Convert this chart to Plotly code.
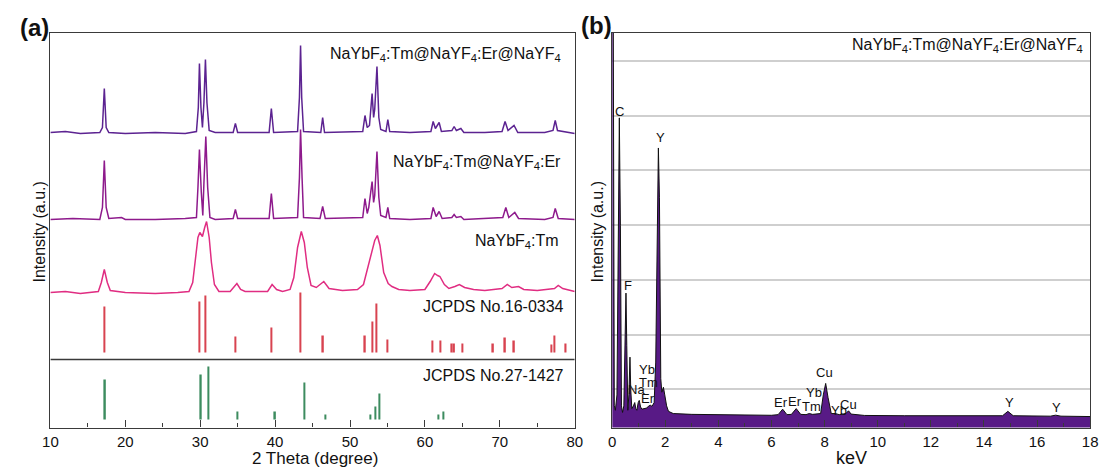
import plotly.graph_objects as go

W, H = 1111, 468

# ---------------- Panel (a): XRD ----------------
# intensities in arbitrary units (offset-stacked)
xrd_core_shell_shell_x = [10, 12, 14, 16.6, 16.95, 17.2, 17.45, 17.8, 20, 24, 28, 29.5, 29.75, 29.9, 30.1, 30.3, 30.5, 30.7, 30.9, 31.2,
                          32, 34.4, 34.7, 35.0, 39.2, 39.5, 39.8, 43.0, 43.25, 43.4, 43.55, 43.8, 46.1, 46.35, 46.6, 51.7, 52.0, 52.3,
                          52.6, 52.95, 53.15, 53.3, 53.6, 53.85, 54.1, 54.8, 55.05, 55.3, 58, 60.8, 61.1, 61.4, 61.9, 62.2, 63.6, 63.9,
                          64.2, 64.8, 65.2, 68, 70.3, 70.7, 71.1, 71.9, 72.4, 76, 77.1, 77.4, 77.7, 78.5, 80]
xrd_core_shell_shell_y = [295, 296, 294, 295, 300, 339, 300, 295, 294, 295, 294, 296, 320, 364, 320, 300, 325, 368, 325, 297,
                          295, 295, 304, 295, 295, 319, 295, 296, 330, 382, 330, 296, 295, 310, 295, 296, 312, 300,
                          302, 334, 310, 318, 361, 310, 298, 296, 308, 296, 295, 296, 306, 299, 305, 296, 297, 301,
                          297, 299, 295, 295, 296, 306, 297, 302, 295, 295, 297, 307, 297, 296, 294]

xrd_core_shell_x = [10, 13, 16.6, 16.95, 17.2, 17.45, 17.8, 19.5, 20, 24, 28, 29.5, 29.7, 29.9, 30.15, 30.35, 30.5, 30.75, 31.0, 31.3,
                    32, 34.4, 34.7, 35.0, 39.2, 39.5, 39.8, 43.0, 43.25, 43.4, 43.6, 43.8, 46.0, 46.35, 46.7, 51.7, 52.0, 52.3,
                    52.5, 52.95, 53.15, 53.3, 53.6, 53.85, 54.1, 54.8, 55.05, 55.3, 58, 60.8, 61.1, 61.5, 61.9, 62.3, 63.6, 63.9,
                    64.2, 64.8, 65.2, 68, 70.4, 70.8, 71.2, 72.0, 72.5, 76, 77.1, 77.4, 77.8, 80]
xrd_core_shell_y = [208, 209, 208, 220, 267, 220, 209, 210, 208, 208, 209, 210, 240, 278, 235, 212, 245, 291, 240, 210,
                    208, 209, 218, 209, 209, 234, 209, 210, 250, 298, 250, 210, 209, 221, 209, 210, 229, 214,
                    220, 246, 225, 232, 276, 230, 212, 210, 220, 209, 208, 209, 220, 211, 216, 209, 210, 213,
                    210, 211, 208, 209, 210, 220, 210, 215, 209, 208, 210, 219, 209, 208]

xrd_core_x = [10, 12, 14, 16.4, 16.8, 17.2, 17.6, 18.0, 20, 24, 27, 28.5, 29.0, 29.4, 29.7, 29.95, 30.3, 30.6, 30.85, 31.2,
              31.5, 31.9, 32.5, 34.0, 34.5, 34.9, 35.4, 36, 39.0, 39.6, 40.2, 41, 42.0, 42.5, 43.0, 43.5, 43.9, 44.3,
              44.8, 45.5, 46.5, 47.2, 49, 51, 51.8, 52.4, 52.9, 53.3, 53.65, 54.0, 54.5, 55.1, 55.6, 56.5, 58, 60.0,
              60.7, 61.3, 61.7, 62.0, 62.6, 63.2, 64.0, 64.6, 65.3, 66.5, 68, 70.3, 71.0, 71.6, 72.5, 73.2, 75, 77.3,
              77.8, 78.4, 80]
xrd_core_y = [135, 136, 134, 136, 145, 158, 145, 137, 135, 134, 135, 136, 145, 170, 190, 195, 191, 200, 206, 190,
              165, 143, 136, 136, 140, 144, 138, 136, 136, 143, 138, 136, 138, 150, 180, 196, 185, 160,
              142, 140, 146, 139, 137, 138, 143, 160, 175, 187, 192, 182, 155, 144, 141, 138, 137, 138,
              146, 154, 152, 151, 143, 139, 141, 143, 140, 138, 137, 139, 143, 140, 141, 138, 137, 139,
              142, 139, 136]

jcpds_16_0334_pos = [17.2, 29.9, 30.7, 34.7, 39.5, 43.4, 46.4, 52.0, 53.0, 53.5, 55.0, 61.0, 62.1, 63.5, 63.9, 65.0, 69.1,
                     70.7, 71.9, 76.9, 77.3, 78.8]
jcpds_16_0334_top = [121, 126, 132, 91, 100, 135, 92, 92, 106, 124, 88, 87, 87, 84, 84, 84, 84, 90, 87, 83, 92, 84]
jcpds_16_0334_base = 75

jcpds_27_1427_pos = [17.3, 30.1, 31.1, 35.0, 40.0, 43.9, 46.7, 52.7, 53.4, 53.9, 61.8, 62.5]
jcpds_27_1427_top = [48, 53, 61, 16, 16, 45, 13, 13, 21, 34, 13, 16]
jcpds_27_1427_base = 8

divider_level = 68

# ---------------- Panel (b): EDS ----------------
eds_kev = [0.0, 0.04, 0.08, 0.12, 0.18, 0.23, 0.27, 0.31, 0.35, 0.39, 0.44, 0.49, 0.52, 0.55, 0.59, 0.63, 0.67, 0.70,
           0.74, 0.80, 0.85, 0.89, 0.93, 0.98, 1.02, 1.07, 1.12, 1.2, 1.3, 1.38, 1.45, 1.5, 1.58, 1.64, 1.70, 1.74,
           1.78, 1.83, 1.87, 1.93, 1.98, 2.05, 2.12, 2.3, 3, 4, 5, 6.0, 6.25, 6.42, 6.58, 6.75, 6.93, 7.1, 7.3,
           7.42, 7.55, 7.85, 7.95, 8.04, 8.13, 8.25, 8.4, 8.55, 8.8, 8.9, 9.0, 9.5, 11, 13, 14.7, 14.9, 15.1,
           16.5, 16.7, 16.9, 18]
eds_counts = [8000, 8000, 700, 620, 900, 4000, 5960, 4000, 700, 580, 700, 2000, 2760, 1800, 620, 900, 1590, 1000,
              650, 700, 760, 650, 620, 760, 800, 680, 640, 650, 660, 700, 710, 690, 760, 1500, 4500, 5410,
              4500, 1200, 950, 1040, 900, 700, 600, 560, 545, 535, 530, 528, 540, 640, 540, 545, 650, 545, 540,
              560, 545, 560, 900, 1110, 850, 560, 560, 540, 560, 610, 550, 525, 520, 515, 520, 600, 520,
              512, 530, 512, 505]

eds_labels = ["C", "Y", "F", "Yb", "Tm", "Na", "Er", "Er", "Er", "Yb", "Tm", "Cu", "Yb", "Cu", "Y", "Y"]
eds_label_kev = [0.26, 1.82, 0.59, 1.30, 1.36, 0.93, 1.36, 6.35, 6.90, 7.61, 7.50, 7.98, 8.54, 8.91, 14.96, 16.74]
eds_label_counts = [6070, 5610, 2900, 1370, 1130, 1000, 835, 760, 780, 945, 690, 1310, 615, 725, 760, 670]

# ---------------- figure ----------------
FONT = "Liberation Sans, Arial, sans-serif"
fig = go.Figure()

fig.add_trace(go.Scatter(x=xrd_core_shell_shell_x, y=xrd_core_shell_shell_y, mode="lines",
                         line=dict(color="#5c2391", width=1.5), xaxis="x", yaxis="y"))
fig.add_trace(go.Scatter(x=xrd_core_shell_x, y=xrd_core_shell_y, mode="lines",
                         line=dict(color="#8e1a8c", width=1.5), xaxis="x", yaxis="y"))
fig.add_trace(go.Scatter(x=xrd_core_x, y=xrd_core_y, mode="lines",
                         line=dict(color="#e02d82", width=1.5), xaxis="x", yaxis="y"))
fig.add_trace(go.Bar(x=jcpds_16_0334_pos, y=[t - jcpds_16_0334_base for t in jcpds_16_0334_top],
                     base=jcpds_16_0334_base, width=0.2, marker=dict(color="#d84350", line=dict(width=0)),
                     xaxis="x", yaxis="y"))
fig.add_trace(go.Bar(x=jcpds_27_1427_pos, y=[t - jcpds_27_1427_base for t in jcpds_27_1427_top],
                     base=jcpds_27_1427_base, width=0.2, marker=dict(color="#3d8c5f", line=dict(width=0)),
                     xaxis="x", yaxis="y"))
fig.add_trace(go.Scatter(x=eds_kev, y=eds_counts, mode="lines", fill="tozeroy",
                         fillcolor="#581a86", line=dict(color="#111111", width=1),
                         xaxis="x2", yaxis="y2"))

ydom = [1 - 427.5 / H, 1 - 33 / H]
axis_common = dict(showline=True, mirror=True, linecolor="#3a3a3a", linewidth=1.3, zeroline=False,
                   tickfont=dict(family=FONT, size=15, color="#111111"))

fig.update_layout(
    width=W, height=H, margin=dict(l=0, r=0, t=0, b=0),
    paper_bgcolor="white", plot_bgcolor="white", showlegend=False, barmode="overlay",
    font=dict(family=FONT, color="#111111"),
    xaxis=dict(domain=[43 / W, 575 / W], range=[10, 80], dtick=10, tick0=0, ticks="inside", ticklen=7,
               tickcolor="#3a3a3a", showgrid=False,
               minor=dict(ticks="inside", ticklen=4, dtick=5, tickcolor="#3a3a3a", showgrid=False),
               anchor="y", **axis_common),
    yaxis=dict(domain=ydom, range=[0, 394.5], showticklabels=False, ticks="", showgrid=False,
               anchor="x", **axis_common),
    xaxis2=dict(domain=[613 / W, 1098 / W], range=[0, 18], dtick=2, tick0=0, ticks="inside", ticklen=7,
                tickcolor="#3a3a3a", showgrid=False,
                minor=dict(ticks="inside", ticklen=4, dtick=1, tickcolor="#3a3a3a", showgrid=False),
                anchor="y2", **axis_common),
    yaxis2=dict(domain=ydom, range=[305, 7510], tickvals=[1000, 2000, 3000, 4000, 5000, 6000, 7000],
                showticklabels=False, ticks="", showgrid=True, gridcolor="#cfcfcf", gridwidth=1.5,
                anchor="x2", **axis_common),
)

fig.add_shape(type="line", xref="x", yref="y", x0=10, x1=80, y0=divider_level, y1=divider_level,
              line=dict(color="#3a3a3a", width=1.3))

ann = []
def A(text, x, y, xref="paper", yref="paper", size=16, xanchor="center", yanchor="middle", angle=0, bold=False):
    if bold:
        text = "<b>" + text + "</b>"
    ann.append(dict(text=text, x=x, y=y, xref=xref, yref=yref, showarrow=False, xanchor=xanchor,
                    yanchor=yanchor, textangle=angle, font=dict(family=FONT, size=size, color="#111111")))

# panel letters
A("(a)", 27 / W, 1 - 27 / H, size=24, bold=True)
A("(b)", 597 / W, 1 - 25 / H, size=24, bold=True)
# axis titles
A("2 Theta (degree)", 311 / W, 1 - 458 / H, size=17)
A("keV", 856 / W, 1 - 458 / H, size=18)
A("Intensity (a.u.)", 31 / W, 1 - 232 / H, size=16, angle=-90)
A("Intensity (a.u.)", 598 / W, 1 - 232 / H, size=16, angle=-90)

# panel (a) sample labels
A("NaYbF<sub>4</sub>:Tm@NaYF<sub>4</sub>:Er@NaYF<sub>4</sub>", 78.4, 373, "x", "y", size=16, xanchor="right")
A("NaYbF<sub>4</sub>:Tm@NaYF<sub>4</sub>:Er", 78.4, 265, "x", "y", size=16, xanchor="right")
A("NaYbF<sub>4</sub>:Tm", 78.2, 186, "x", "y", size=16, xanchor="right")
A("JCPDS No.16-0334", 78.8, 121, "x", "y", size=16, xanchor="right")
A("JCPDS No.27-1427", 78.8, 52, "x", "y", size=16, xanchor="right")

# panel (b)
A("NaYbF<sub>4</sub>:Tm@NaYF<sub>4</sub>:Er@NaYF<sub>4</sub>", 17.8, 7290, "x2", "y2", size=16, xanchor="right")
for t, kx, cy in zip(eds_labels, eds_label_kev, eds_label_counts):
    A(t, kx, cy, "x2", "y2", size=13)

fig.update_layout(annotations=ann)
fig.write_html("out.html")
